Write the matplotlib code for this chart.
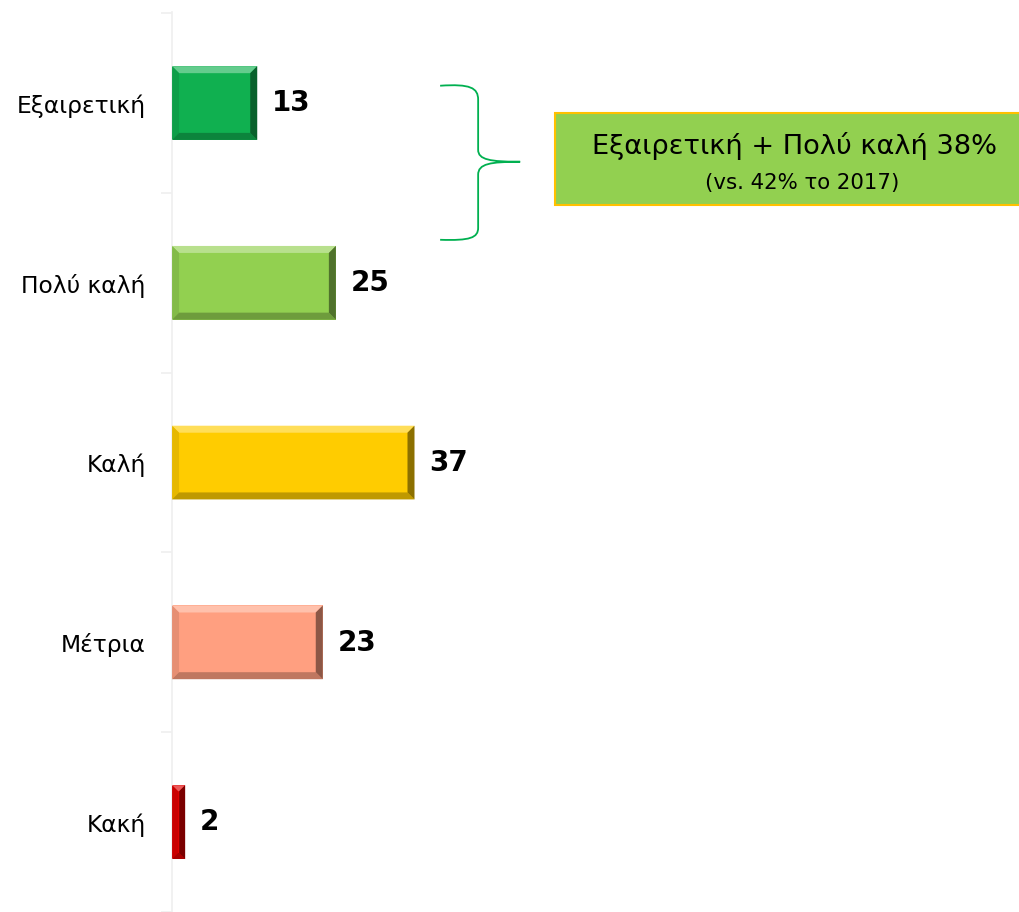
import matplotlib
matplotlib.use("Agg")
import matplotlib.pyplot as plt
import matplotlib.colors as mcolors
from matplotlib.patches import Polygon, Rectangle, PathPatch
from matplotlib.path import Path
import numpy as np

categories = ["Εξαιρετική", "Πολύ καλή", "Καλή", "Μέτρια", "Κακή"]
values = [13, 25, 37, 23, 2]
colors = ["#10B050", "#92D050", "#FFCC00", "#FF9F80", "#E00000"]
box_line1 = "Εξαιρετική + Πολύ καλή 38%"
box_line2 = "(vs. 42% το 2017)"

W, H = 1019, 912
fig = plt.figure(figsize=((W + 0.3) / 100, (H + 0.3) / 100), dpi=100)
fig.patch.set_facecolor("white")
ax = fig.add_axes([172 / W, 0, 1 - 172 / W, (912 - 12) / H])

y = np.arange(len(categories))
bars = ax.barh(y, values, height=0.41, color=colors, edgecolor="none", zorder=2)
ax.set_xlim(0, 129.3)
ax.set_ylim(4.464, -0.508)

for s in ["top", "right", "bottom"]:
    ax.spines[s].set_visible(False)
ax.spines["left"].set_color("#EFEFEF")
ax.spines["left"].set_linewidth(1.2)
ax.set_xticks([])
ax.set_yticks(y)
ax.set_yticklabels(categories, fontsize=16.8, family="DejaVu Sans")
ax.tick_params(axis="y", which="major", length=0, pad=19)
ax.set_yticks(np.arange(-0.5, len(categories), 1.0), minor=True)
ax.tick_params(axis="y", which="minor", length=8, color="#EFEFEF", width=1.2)

# bevel effect computed from each bar's geometry
fig.canvas.draw()
inv = ax.transData.inverted()
for bar, c in zip(bars, colors):
    x0, y0 = bar.get_x(), bar.get_y()
    w, h = bar.get_width(), bar.get_height()
    (px0, py0) = ax.transData.transform((x0, y0))
    (px1, py1) = ax.transData.transform((x0 + w, y0 + h))
    top, bot = max(py0, py1), min(py0, py1)
    left, right = min(px0, px1), max(px0, px1)
    b = min(7, (right - left) / 2.2, (top - bot) / 3)
    rgb = np.array(mcolors.to_rgb(c))
    light = tuple(np.clip(rgb + (1 - rgb) * 0.35, 0, 1))
    left_col = tuple(rgb * 0.9)
    dark = tuple(rgb * 0.55)
    mid_dark = tuple(rgb * 0.75)
    def P(pts):
        return [inv.transform(p) for p in pts]
    polys = [
        (P([(left, top), (right, top), (right - b, top - b), (left + b, top - b)]), light),
        (P([(left, top), (left + b, top - b), (left + b, bot + b), (left, bot)]), left_col),
        (P([(left, bot), (left + b, bot + b), (right - b, bot + b), (right, bot)]), mid_dark),
        (P([(right, top), (right, bot), (right - b, bot + b), (right - b, top - b)]), dark),
    ]
    for pts, col in polys:
        ax.add_patch(Polygon(pts, closed=True, facecolor=col, edgecolor="none", zorder=3))
    ax.text(x0 + w + 2.3, y0 + h / 2, str(int(w)), va="center", ha="left",
            fontsize=20, fontweight="bold", color="black", zorder=4)

# brace in figure pixel coordinates
def fx(px):
    return px / W
def fy(py):
    return 1 - py / H
verts = [
    (440, 86), (470, 84), (478, 88), (478, 100),
    (478, 150),
    (478, 160), (490, 162), (520, 162),
    (490, 162), (478, 164), (478, 175),
    (478, 228),
    (478, 238), (470, 241), (440, 240),
]
codes = [Path.MOVETO, Path.CURVE4, Path.CURVE4, Path.CURVE4,
         Path.LINETO,
         Path.CURVE4, Path.CURVE4, Path.CURVE4,
         Path.CURVE4, Path.CURVE4, Path.CURVE4,
         Path.LINETO,
         Path.CURVE4, Path.CURVE4, Path.CURVE4]
path = Path([(fx(a), fy(b)) for a, b in verts], codes)
fig.add_artist(PathPatch(path, transform=fig.transFigure, facecolor="none",
                         edgecolor="#00B050", linewidth=1.3))

# annotation box
fig.add_artist(Rectangle((fx(555), fy(205)), fx(1019 + 20) - fx(555), fy(113) - fy(205),
                         transform=fig.transFigure, facecolor="#92D050",
                         edgecolor="#FFC000", linewidth=1.5, clip_on=False))
fig.text(fx(794), fy(146), box_line1, ha="center", va="center", fontsize=19.6, color="black")
fig.text(fx(802), fy(183), box_line2, ha="center", va="center", fontsize=15.3, color="black")

fig.savefig("out.png", dpi=100, facecolor="white")
